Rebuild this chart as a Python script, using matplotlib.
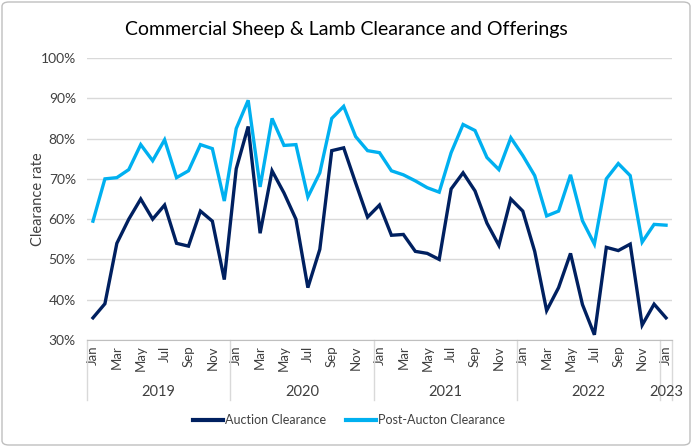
import matplotlib
matplotlib.use("Agg")
import matplotlib.pyplot as plt
import matplotlib.transforms as mtransforms
from matplotlib.patches import FancyBboxPatch

plt.rcParams['font.family'] = ['Lato', 'DejaVu Sans']

months = ["Jan", "Feb", "Mar", "Apr", "May", "Jun", "Jul", "Aug", "Sep", "Oct", "Nov", "Dec"]
years = ["2019", "2020", "2021", "2022", "2023"]
month_labels = months * 4 + ["Jan"]

auction = [35.5, 39, 54, 60, 65, 60, 63.5, 54, 53.3, 62, 59.5, 45,
           72.5, 83, 56.5, 72, 66.5, 60, 43, 52.5, 77, 77.7, 69, 60.5,
           63.5, 56, 56.2, 52, 51.5, 50, 67.5, 71.5, 67, 59, 53.5, 65,
           62, 52, 37.3, 43, 51.5, 38.8, 31.3, 53, 52.2, 53.8, 33.7, 38.9,
           35.5]
post_auction = [59.5, 70, 70.3, 72.3, 78.5, 74.5, 79.7, 70.3, 72, 78.5, 77.5, 64.5,
                82.5, 89.5, 68, 85, 78.3, 78.5, 65.5, 71.5, 85, 88, 80.5, 77,
                76.5, 72, 71, 69.5, 67.8, 66.7, 76.5, 83.5, 82, 75.3, 72.3, 80.2,
                75.8, 70.8, 60.8, 62, 71, 59.6, 53.8, 70, 73.8, 70.8, 54.3, 58.7,
                58.5]

W, H = 692, 447
fig = plt.figure(figsize=(W / 100, H / 100), dpi=100)
ax = fig.add_axes([87 / W, 1 - 340 / H, (672 - 87) / W, (340 - 58) / H])

x = list(range(len(auction)))
ax.plot(x, [v / 100 for v in auction], color="#002060", lw=2.4, label="Auction Clearance",
        solid_joinstyle="miter")
ax.plot(x, [v / 100 for v in post_auction], color="#00B0F0", lw=2.4, label="Post-Aucton Clearance",
        solid_joinstyle="miter")

ax.set_xlim(-0.5, len(x) - 0.5)
ax.set_ylim(0.3, 1.0)
yt = [0.3, 0.4, 0.5, 0.6, 0.7, 0.8, 0.9, 1.0]
ax.set_yticks(yt)
ax.set_yticklabels([f"{int(round(v*100))}%" for v in yt], fontsize=10, color="#404040")
ax.yaxis.grid(True, color="#d9d9d9", lw=1)
ax.set_axisbelow(True)
for s in ["top", "right", "left"]:
    ax.spines[s].set_visible(False)
ax.spines["bottom"].set_color("#bfbfbf")
ax.tick_params(axis="y", length=0, pad=8)

ticks = list(range(0, len(x), 2))
ax.set_xticks(ticks)
ax.set_xticklabels([month_labels[i] for i in ticks], rotation=90, fontsize=9.5, color="#404040")
ax.tick_params(axis="x", length=0, pad=4)

ax.set_ylabel("Clearance rate", fontsize=10.5, color="#404040", labelpad=-3)

trans = mtransforms.blended_transform_factory(ax.transData, ax.transAxes)
for b in [-0.5, 11.5, 23.5, 35.5, 47.5, 48.5]:
    ax.plot([b, b], [0, -0.213], transform=trans, color="#d9d9d9", lw=1, clip_on=False)
for i, yr in enumerate(years):
    c = 5.5 + 12 * i if i < 4 else 48
    ax.text(c, -0.184, yr, transform=trans, ha="center", va="center", fontsize=10.5, color="#404040")

fig.text(0.5, 1 - 30 / H, "Commercial Sheep & Lamb Clearance and Offerings", ha="center", va="center",
         fontsize=14, color="#000000")

leg = fig.legend(loc="center", bbox_to_anchor=(349 / W, 1 - 420 / H), ncol=2, frameon=False,
                 fontsize=9, handlelength=2.4, columnspacing=1.6, handletextpad=0.15)
for t in leg.get_texts():
    t.set_color("#404040")
for l in leg.get_lines():
    l.set_linewidth(3)

border = FancyBboxPatch((2 / W, 2 / H), 1 - 4 / W, 1 - 4 / H, boxstyle="round,pad=0,rounding_size=0.01",
                        transform=fig.transFigure, fill=False, edgecolor="#bfbfbf", lw=1)
fig.patches.append(border)

fig.savefig("out.png", dpi=100)
